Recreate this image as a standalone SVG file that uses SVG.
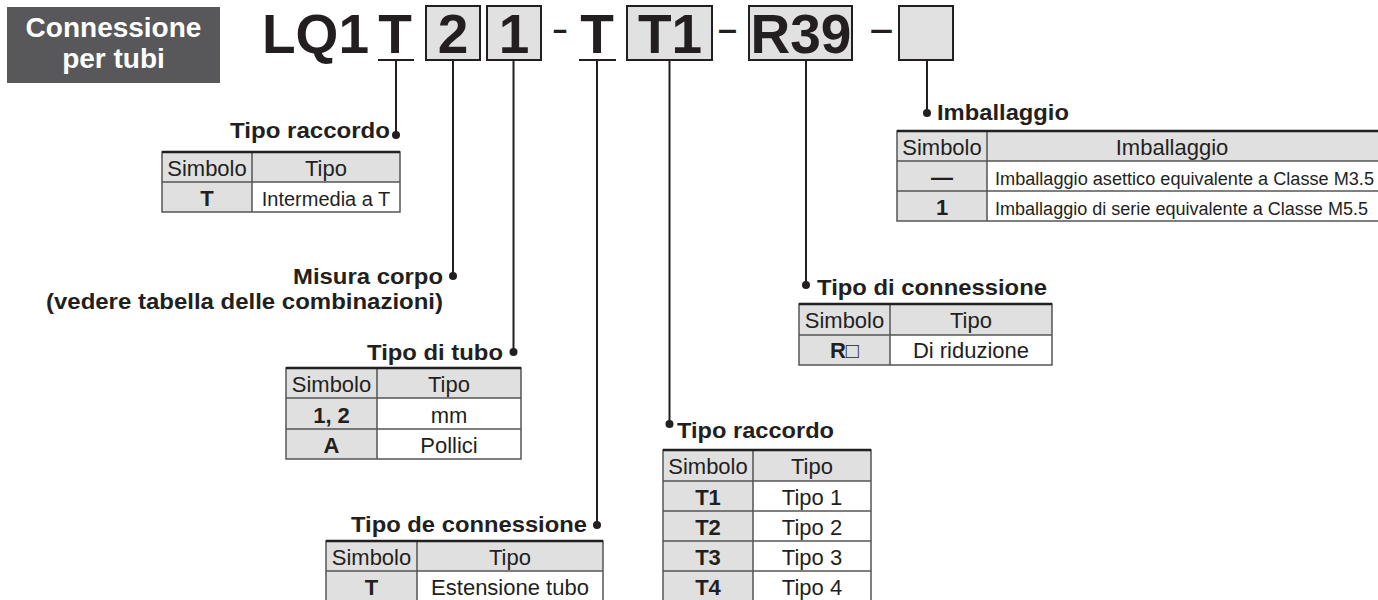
<svg xmlns="http://www.w3.org/2000/svg" width="1378" height="600" viewBox="0 0 1378 600">
<style>
text{font-family:"Liberation Sans",Arial,"DejaVu Sans",sans-serif;fill:#231f20}
.b{font-weight:bold}
.code{font-weight:bold;font-size:55px;text-anchor:middle}
.lbl{font-weight:bold;font-size:22px}
.th{font-size:22px;text-anchor:middle}
.td{font-size:22px;text-anchor:middle}
.sym{font-size:22px;font-weight:bold;text-anchor:middle}
.cbox{fill:#e1e1e1;stroke:#231f20;stroke-width:2}
.g{fill:#e0e0e0}
.w{fill:#ffffff}
.grid{stroke:#555;stroke-width:1.5;fill:none}
.top{stroke:#231f20;stroke-width:2.5}
.conn line{stroke:#231f20;stroke-width:2}
.conn circle{fill:#231f20}
.dash{font-size:34px;font-weight:bold;text-anchor:middle}
</style>

<g id="title">
<rect x="7" y="7" width="213" height="76" fill="#58585a"/>
<text x="113.5" y="37" class="b" font-size="28" text-anchor="middle" style="fill:#fff">Connessione</text>
<text x="113.5" y="68" class="b" font-size="28" text-anchor="middle" style="fill:#fff">per tubi</text>
</g>

<g id="code">
<text x="262" y="53" font-weight="bold" font-size="55">LQ1</text>
<text x="395" y="53" class="code">T</text>
<rect class="cbox" x="426" y="6" width="54" height="54"/>
<text x="453" y="53" class="code">2</text>
<rect class="cbox" x="487" y="6" width="54" height="54"/>
<text x="514" y="53" class="code">1</text>
<text x="560" y="40" class="dash" textLength="14" lengthAdjust="spacingAndGlyphs">–</text>
<text x="597" y="53" class="code">T</text>
<rect class="cbox" x="627" y="6" width="85" height="54"/>
<text x="670" y="53" class="code">T1</text>
<text x="727.5" y="40" class="dash" textLength="19" lengthAdjust="spacingAndGlyphs">–</text>
<rect class="cbox" x="749" y="6" width="103" height="54"/>
<text x="801" y="53" class="code">R39</text>
<text x="881.5" y="40" class="dash" textLength="23" lengthAdjust="spacingAndGlyphs">–</text>
<rect class="cbox" x="899" y="6" width="54" height="54"/>
</g>

<g id="connectors" class="conn">
<line x1="378" y1="60" x2="414" y2="60"/>
<line x1="579" y1="60" x2="616" y2="60"/>
<line x1="396" y1="60" x2="396" y2="135"/><circle cx="396" cy="135" r="4"/>
<line x1="453" y1="60" x2="453" y2="276"/><circle cx="453" cy="276" r="4"/>
<line x1="513.5" y1="60" x2="513.5" y2="352"/><circle cx="513.5" cy="352" r="4"/>
<line x1="597" y1="60" x2="597" y2="525"/><circle cx="597" cy="525" r="4"/>
<line x1="669.5" y1="60" x2="669.5" y2="424"/><circle cx="669.5" cy="424" r="4"/>
<line x1="806" y1="60" x2="806" y2="285"/><circle cx="806" cy="285" r="4"/>
<line x1="927" y1="60" x2="927" y2="113"/><circle cx="927" cy="113" r="4"/>
</g>

<g id="tipo-raccordo-1">
<text x="390" y="138" class="lbl" text-anchor="end" textLength="160" lengthAdjust="spacingAndGlyphs">Tipo raccordo</text>
<rect class="g" x="162" y="152" width="238" height="60"/>
<rect class="w" x="252" y="182" width="148" height="30"/>
<rect class="grid" x="162" y="152" width="238" height="60"/>
<line class="grid" x1="162" y1="182" x2="400" y2="182"/>
<line class="grid" x1="252" y1="152" x2="252" y2="212"/>
<line class="top" x1="162" y1="152" x2="400" y2="152"/>
<text x="207" y="176" class="th">Simbolo</text>
<text x="326" y="176" class="th">Tipo</text>
<text x="207" y="206" class="sym">T</text>
<text x="326" y="206" class="td" style="font-size:20px">Intermedia a T</text>
</g>

<g id="misura-corpo">
<text x="443" y="284" class="lbl" text-anchor="end" textLength="150" lengthAdjust="spacingAndGlyphs">Misura corpo</text>
<text x="443" y="309" class="lbl" text-anchor="end" textLength="397" lengthAdjust="spacingAndGlyphs">(vedere tabella delle combinazioni)</text>
</g>

<g id="tipo-di-tubo">
<text x="503" y="360" class="lbl" text-anchor="end" textLength="136" lengthAdjust="spacingAndGlyphs">Tipo di tubo</text>
<rect class="g" x="286" y="368" width="235" height="91"/>
<rect class="w" x="377" y="398" width="144" height="61"/>
<rect class="grid" x="286" y="368" width="235" height="91"/>
<line class="grid" x1="286" y1="398" x2="521" y2="398"/>
<line class="grid" x1="286" y1="429" x2="521" y2="429"/>
<line class="grid" x1="377" y1="368" x2="377" y2="459"/>
<line class="top" x1="286" y1="368" x2="521" y2="368"/>
<text x="331.5" y="392" class="th">Simbolo</text>
<text x="449" y="392" class="th">Tipo</text>
<text x="331.5" y="423" class="sym">1, 2</text>
<text x="449" y="423" class="td">mm</text>
<text x="331.5" y="453" class="sym">A</text>
<text x="449" y="453" class="td">Pollici</text>
</g>

<g id="tipo-de-connessione">
<text x="587" y="532" class="lbl" text-anchor="end" textLength="236" lengthAdjust="spacingAndGlyphs">Tipo de connessione</text>
<rect class="g" x="326" y="541" width="277" height="61"/>
<rect class="w" x="417" y="571" width="186" height="31"/>
<rect class="grid" x="326" y="541" width="277" height="61"/>
<line class="grid" x1="326" y1="571" x2="603" y2="571"/>
<line class="grid" x1="417" y1="541" x2="417" y2="602"/>
<line class="top" x1="326" y1="541" x2="603" y2="541"/>
<text x="371.5" y="565" class="th">Simbolo</text>
<text x="510" y="565" class="th">Tipo</text>
<text x="371.5" y="595" class="sym">T</text>
<text x="510" y="595" class="td">Estensione tubo</text>
</g>

<g id="tipo-raccordo-2">
<text x="677" y="438" class="lbl" textLength="157" lengthAdjust="spacingAndGlyphs">Tipo raccordo</text>
<rect class="g" x="663" y="450" width="208" height="152"/>
<rect class="w" x="753" y="481" width="118" height="121"/>
<rect class="grid" x="663" y="450" width="208" height="152"/>
<line class="grid" x1="663" y1="481" x2="871" y2="481"/>
<line class="grid" x1="663" y1="511" x2="871" y2="511"/>
<line class="grid" x1="663" y1="541" x2="871" y2="541"/>
<line class="grid" x1="663" y1="571" x2="871" y2="571"/>
<line class="grid" x1="753" y1="450" x2="753" y2="602"/>
<line class="top" x1="663" y1="450" x2="871" y2="450"/>
<text x="708" y="474" class="th">Simbolo</text>
<text x="812" y="474" class="th">Tipo</text>
<text x="708" y="505" class="sym">T1</text>
<text x="812" y="505" class="td">Tipo 1</text>
<text x="708" y="535" class="sym">T2</text>
<text x="812" y="535" class="td">Tipo 2</text>
<text x="708" y="565" class="sym">T3</text>
<text x="812" y="565" class="td">Tipo 3</text>
<text x="708" y="595" class="sym">T4</text>
<text x="812" y="595" class="td">Tipo 4</text>
</g>

<g id="tipo-di-connessione">
<text x="817" y="295" class="lbl" textLength="230" lengthAdjust="spacingAndGlyphs">Tipo di connessione</text>
<rect class="g" x="799" y="304" width="253" height="61"/>
<rect class="w" x="890" y="335" width="162" height="30"/>
<rect class="grid" x="799" y="304" width="253" height="61"/>
<line class="grid" x1="799" y1="335" x2="1052" y2="335"/>
<line class="grid" x1="890" y1="304" x2="890" y2="365"/>
<line class="top" x1="799" y1="304" x2="1052" y2="304"/>
<text x="844.5" y="328" class="th">Simbolo</text>
<text x="971" y="328" class="th">Tipo</text>
<text x="844.5" y="358" class="sym">R<tspan font-weight="normal">□</tspan></text>
<text x="971" y="358" class="td">Di riduzione</text>
</g>

<g id="imballaggio">
<text x="937" y="120" class="lbl" textLength="132" lengthAdjust="spacingAndGlyphs">Imballaggio</text>
<rect class="g" x="897" y="131" width="483" height="90"/>
<rect class="w" x="987" y="161" width="393" height="60"/>
<rect class="grid" x="897" y="131" width="483" height="90"/>
<line class="grid" x1="897" y1="161" x2="1380" y2="161"/>
<line class="grid" x1="897" y1="191" x2="1380" y2="191"/>
<line class="grid" x1="987" y1="131" x2="987" y2="221"/>
<line class="top" x1="897" y1="131" x2="1380" y2="131"/>
<text x="942" y="155" class="th">Simbolo</text>
<text x="1172" y="155" class="th">Imballaggio</text>
<text x="942" y="185" class="sym">—</text>
<text x="995" y="185" font-size="18" textLength="379" lengthAdjust="spacingAndGlyphs">Imballaggio asettico equivalente a Classe M3.5</text>
<text x="942" y="215" class="sym">1</text>
<text x="995" y="215" font-size="18" textLength="373" lengthAdjust="spacingAndGlyphs">Imballaggio di serie equivalente a Classe M5.5</text>
</g>
</svg>
